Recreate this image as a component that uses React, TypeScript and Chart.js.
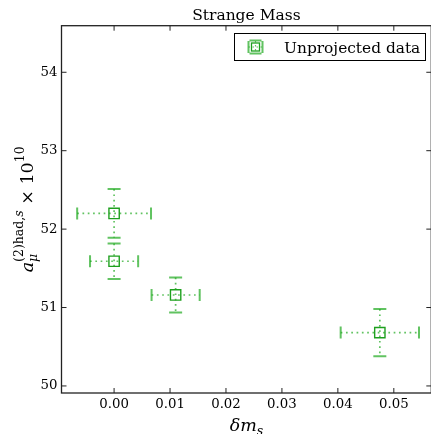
import React, { useEffect, useRef } from 'react';
import { Chart, registerables } from 'chart.js';

Chart.register(...registerables);

// ---- data ----
const seriesLabel = 'Unprojected data';
const chartTitle = 'Strange Mass';
const xValues = [0.0, 0.0, 0.011, 0.0475];
const yValues = [52.2, 51.59, 51.16, 50.68];
const xErrors = [0.0066, 0.0043, 0.0043, 0.007];
const yErrors = [0.31, 0.226, 0.223, 0.3];
const xRange = [-0.0094, 0.0567];
const yRange = [49.91, 54.594];
const xStep = 0.01;
const yStep = 1;

const SERIF = '"DejaVu Serif", serif';
const MARK = 'rgb(30,160,30)';
const ERR = 'rgba(30,170,30,0.7)';
const FRAME = '#222';

type Seg = { t: string; font: string; dy: number; stackStart?: boolean; stackEnd?: boolean; restart?: boolean };

function drawSegs(ctx: CanvasRenderingContext2D, segs: Seg[], cx: number, baseY: number) {
  const measure = (s: Seg) => {
    ctx.font = s.font;
    return ctx.measureText(s.t).width;
  };
  const layout: { s: Seg; x: number }[] = [];
  let x = 0;
  let stackX = 0;
  let stackMax = 0;
  let inStack = false;
  let cur = 0;
  for (const s of segs) {
    if (s.stackStart) {
      inStack = true;
      stackX = x;
      stackMax = x;
      cur = x;
    }
    if (inStack) {
      if (s.restart) cur = stackX;
      layout.push({ s, x: cur });
      cur += measure(s);
      stackMax = Math.max(stackMax, cur);
      if (s.stackEnd) {
        inStack = false;
        x = stackMax;
      }
    } else {
      layout.push({ s, x });
      x += measure(s);
    }
  }
  const start = cx - x / 2;
  ctx.textBaseline = 'alphabetic';
  ctx.textAlign = 'left';
  ctx.fillStyle = '#000';
  for (const l of layout) {
    ctx.font = l.s.font;
    ctx.fillText(l.s.t, start + l.x, baseY + l.s.dy);
  }
}

const errorBarPlugin = {
  id: 'errorBars',
  beforeDatasetsDraw(chart: any) {
    const { ctx } = chart;
    const xs = chart.scales.x;
    const ys = chart.scales.y;
    ctx.save();
    xValues.forEach((xv, i) => {
      const yv = yValues[i];
      const px = xs.getPixelForValue(xv);
      const py = ys.getPixelForValue(yv);
      const x1 = xs.getPixelForValue(xv - xErrors[i]);
      const x2 = xs.getPixelForValue(xv + xErrors[i]);
      const y1 = ys.getPixelForValue(yv + yErrors[i]);
      const y2 = ys.getPixelForValue(yv - yErrors[i]);
      ctx.strokeStyle = ERR;
      ctx.lineWidth = 1.7;
      ctx.setLineDash([1.7, 3.6]);
      ctx.beginPath();
      ctx.moveTo(x1, py);
      ctx.lineTo(x2, py);
      ctx.moveTo(px, y1);
      ctx.lineTo(px, y2);
      ctx.stroke();
      ctx.setLineDash([]);
      ctx.lineWidth = 2;
      ctx.beginPath();
      ctx.moveTo(x1, py - 6);
      ctx.lineTo(x1, py + 6);
      ctx.moveTo(x2, py - 6);
      ctx.lineTo(x2, py + 6);
      ctx.moveTo(px - 6.5, y1);
      ctx.lineTo(px + 6.5, y1);
      ctx.moveTo(px - 6.5, y2);
      ctx.lineTo(px + 6.5, y2);
      ctx.stroke();
    });
    ctx.restore();
  },
};

const decorPlugin = {
  id: 'decor',
  afterDraw(chart: any) {
    const { ctx, chartArea: a } = chart;
    const xs = chart.scales.x;
    const ys = chart.scales.y;
    ctx.save();
    ctx.strokeStyle = FRAME;
    ctx.lineWidth = 1.3;
    ctx.strokeRect(a.left, a.top, a.right - a.left, a.bottom - a.top);
    ctx.lineWidth = 1;
    const tl = 5;
    ctx.beginPath();
    xs.ticks.forEach((t: any) => {
      const p = xs.getPixelForValue(t.value);
      ctx.moveTo(p, a.bottom);
      ctx.lineTo(p, a.bottom - tl);
      ctx.moveTo(p, a.top);
      ctx.lineTo(p, a.top + tl);
    });
    ys.ticks.forEach((t: any) => {
      const p = ys.getPixelForValue(t.value);
      ctx.moveTo(a.left, p);
      ctx.lineTo(a.left + tl, p);
      ctx.moveTo(a.right, p);
      ctx.lineTo(a.right - tl, p);
    });
    ctx.stroke();

    const cx = (a.left + a.right) / 2;
    ctx.fillStyle = '#000';
    ctx.font = `15.5px ${SERIF}`;
    ctx.textAlign = 'center';
    ctx.textBaseline = 'alphabetic';
    ctx.fillText(chartTitle, cx, 19.5);

    drawSegs(
      ctx,
      [
        { t: 'δm', font: `italic 17.5px ${SERIF}`, dy: 0 },
        { t: 's', font: `italic 12.5px ${SERIF}`, dy: 4 },
      ],
      cx,
      431
    );

    const cy = (a.top + a.bottom) / 2;
    ctx.save();
    ctx.translate(33, cy);
    ctx.rotate(-Math.PI / 2);
    const segs: Seg[] = [
      { t: 'a', font: `italic 17.5px ${SERIF}`, dy: 0 },
      { t: 'μ', font: `italic 12.5px ${SERIF}`, dy: 4, stackStart: true },
      { t: '(2)had,', font: `12.5px ${SERIF}`, dy: -10, restart: true },
      { t: 's', font: `italic 12.5px ${SERIF}`, dy: -10, stackEnd: true },
      { t: ' × 10', font: `17.5px ${SERIF}`, dy: 0 },
      { t: '10', font: `12.5px ${SERIF}`, dy: -9 },
    ];
    drawSegs(ctx, segs, 0, 0);
    ctx.restore();

    // legend
    const lx = 234.5, ly = 33.5, lw = 191, lh = 27;
    ctx.fillStyle = '#fff';
    ctx.fillRect(lx, ly, lw, lh);
    ctx.strokeStyle = '#000';
    ctx.lineWidth = 1;
    ctx.strokeRect(lx, ly, lw, lh);
    const ix = 255.5, iy = 47;
    ctx.strokeStyle = ERR;
    ctx.lineWidth = 2;
    ctx.beginPath();
    ctx.moveTo(ix - 7, iy - 6);
    ctx.lineTo(ix - 7, iy + 6);
    ctx.moveTo(ix + 7, iy - 6);
    ctx.lineTo(ix + 7, iy + 6);
    ctx.moveTo(ix - 6, iy - 6.5);
    ctx.lineTo(ix + 6, iy - 6.5);
    ctx.moveTo(ix - 6, iy + 6.5);
    ctx.lineTo(ix + 6, iy + 6.5);
    ctx.stroke();
    ctx.lineWidth = 1.2;
    ctx.setLineDash([1.5, 2.5]);
    ctx.beginPath();
    ctx.moveTo(ix - 7, iy);
    ctx.lineTo(ix + 7, iy);
    ctx.moveTo(ix, iy - 6);
    ctx.lineTo(ix, iy + 6);
    ctx.stroke();
    ctx.setLineDash([]);
    ctx.strokeStyle = MARK;
    ctx.lineWidth = 1.3;
    ctx.strokeRect(ix - 4, iy - 4, 8, 8);
    ctx.fillStyle = '#000';
    ctx.font = `15.4px ${SERIF}`;
    ctx.textAlign = 'left';
    ctx.textBaseline = 'alphabetic';
    ctx.fillText(seriesLabel, 284, 52.5);
    ctx.restore();
  },
};

export default function App() {
  const ref = useRef<HTMLCanvasElement | null>(null);
  useEffect(() => {
    if (!ref.current) return;
    const chart = new Chart(ref.current, {
      type: 'scatter',
      data: {
        datasets: [
          {
            label: seriesLabel,
            data: xValues.map((x, i) => ({ x, y: yValues[i] })),
            pointStyle: 'rect',
            pointRadius: 7.3,
            pointHoverRadius: 7.3,
            pointBorderWidth: 1.4,
            pointBorderColor: MARK,
            pointBackgroundColor: 'rgba(0,0,0,0)',
            showLine: false,
          },
        ],
      },
      options: {
        animation: false,
        responsive: false,
        devicePixelRatio: 1,
        layout: { padding: { top: 25.7, right: 8, left: 0, bottom: 0 } },
        plugins: {
          legend: { display: false },
          title: { display: false },
          tooltip: { enabled: false },
        },
        scales: {
          x: {
            type: 'linear',
            min: xRange[0],
            max: xRange[1],
            grid: { display: false, drawTicks: false },
            border: { display: false },
            ticks: {
              stepSize: xStep,
              includeBounds: false,
              autoSkip: false,
              maxRotation: 0,
              padding: 4,
              color: '#000',
              font: { family: SERIF, size: 13.3 },
              callback: (v: any) => Number(v).toFixed(2),
            },
            afterFit: (s: any) => {
              s.height = 41;
            },
          },
          y: {
            type: 'linear',
            min: yRange[0],
            max: yRange[1],
            grid: { display: false, drawTicks: false },
            border: { display: false },
            ticks: {
              stepSize: yStep,
              includeBounds: false,
              autoSkip: false,
              padding: 4,
              color: '#000',
              font: { family: SERIF, size: 13.3 },
              callback: (v: any) => String(Math.round(Number(v))),
            },
            afterFit: (s: any) => {
              s.width = 61.5;
            },
          },
        },
      },
      plugins: [errorBarPlugin, decorPlugin],
    });
    return () => chart.destroy();
  }, []);
  return (
    <div style={{ position: 'fixed', left: 0, top: 0, width: 431, height: 434, overflow: 'hidden', background: '#fff' }}>
      <canvas ref={ref} width={440} height={434} style={{ display: 'block', width: 440, height: 434 }} />
    </div>
  );
}
